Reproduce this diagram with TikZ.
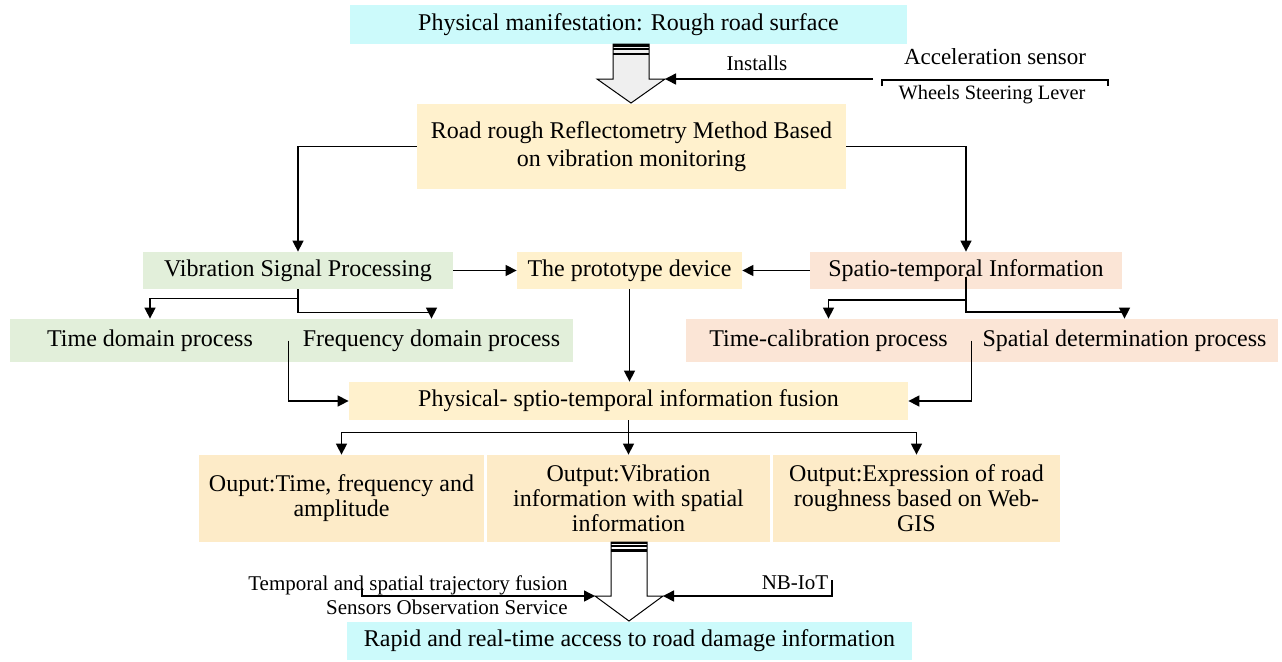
\documentclass[tikz,border=0pt]{standalone}
\usepackage{fontspec}
\setmainfont{Liberation Serif}
\usetikzlibrary{arrows.meta}

\definecolor{skyfill}{HTML}{CCFAFB}
\definecolor{creamfill}{HTML}{FFF1CD}
\definecolor{outfill}{HTML}{FDEBC8}
\definecolor{greenfill}{HTML}{E2EFDA}
\definecolor{salmonfill}{HTML}{FBE5D6}
\definecolor{arrowgray}{HTML}{EFEFEF}

\tikzset{
  box/.style={inner sep=0pt, align=center, font=\fontsize{12}{14}\selectfont},
  outbox/.style={box, fill=outfill, minimum height=43.5pt, font=\fontsize{12}{12.5}\selectfont},
  lbl/.style={inner sep=0pt, font=\fontsize{10.5}{12}\selectfont},
  arr/.style={-{Triangle[length=5.5pt,width=5.5pt]}, line width=0.75pt},
  wire/.style={line width=0.75pt},
  bigarrow/.style={line width=0.5pt}
}

\begin{document}
\begin{tikzpicture}[x=0.5pt, y=-0.5pt]
    \useasboundingbox (0,0) rectangle (1282,661);

    \node[box, fill=skyfill, minimum width=278.5pt, minimum height=19.5pt] (surface) at (628.5,24.5) {Physical manifestation: Rough road surface};
    \node[box, fill=creamfill, minimum width=214.5pt, minimum height=42.5pt] (method) at (631.5,146.5) {Road rough Reflectometry Method Based\\on vibration monitoring};

    \node[box, fill=greenfill, minimum width=155pt, minimum height=18.5pt] (vibration) at (298,270.5) {Vibration Signal Processing};
    \node[box, fill=creamfill, minimum width=112.5pt, minimum height=18.5pt] (prototype) at (629.5,270.5) {The prototype device};
    \node[box, fill=salmonfill, minimum width=156pt, minimum height=18.5pt] (spatiotemp) at (966,270.5) {Spatio-temporal Information};

    \node[box, fill=greenfill, minimum width=140pt, minimum height=21.5pt] (timedomain) at (150,340.5) {Time domain process};
    \node[box, fill=greenfill, minimum width=141.5pt, minimum height=21.5pt] (freqdomain) at (431.5,340.5) {Frequency domain process};
    \node[box, fill=salmonfill, minimum width=142.5pt, minimum height=21.5pt] (timecal) at (828.5,340.5) {Time-calibration process};
    \node[box, fill=salmonfill, minimum width=153.5pt, minimum height=21.5pt] (spatialdet) at (1124.5,340.5) {Spatial determination process};

    \node[box, fill=creamfill, minimum width=279.5pt, minimum height=19pt] (fusion) at (628.5,401) {Physical- sptio-temporal information fusion};

    \node[outbox, minimum width=142.5pt] (outtime) at (341.5,498.5) {Ouput:Time, frequency and\\amplitude};
    \node[outbox, minimum width=141.5pt] (outvib) at (628.5,498.5) {Output:Vibration\\information with spatial\\information};
    \node[outbox, minimum width=143.5pt] (outgis) at (916.5,498.5) {Output:Expression of road\\roughness based on Web-\\GIS};

    \node[box, fill=skyfill, minimum width=282.5pt, minimum height=19pt] (access) at (629.5,641) {Rapid and real-time access to road damage information};

    \node[lbl] (installs) at (757,63) {Installs};
    \node[lbl, font=\fontsize{11.5}{13}\selectfont] (accel) at (995,57) {Acceleration sensor};
    \node[lbl, font=\fontsize{10.2}{12}\selectfont] (wheels) at (992,95) {Wheels Steering Lever};
    \node[lbl, anchor=east, align=right] (trajectory) at (568,595) {Temporal and spatial trajectory fusion\\Sensors Observation Service};
    \node[lbl] (nbiot) at (795,583) {NB-IoT};

    \filldraw[bigarrow, fill=arrowgray] (613,44) -- (613,79) -- (597,79) -- (631,103) -- (665,79) -- (649,79) -- (649,44) -- cycle;
    \draw[line width=1.3pt] (613,45.3) -- (649,45.3);
    \draw[line width=0.85pt] (613,49.2) -- (649,49.2);
    \draw[line width=1.3pt] (613,54) -- (649,54);
    \filldraw[bigarrow, fill=white] (611,542) -- (611,596) -- (595,596) -- (629,621) -- (663,596) -- (647,596) -- (647,542) -- cycle;
    \draw[line width=1pt] (611,543) -- (647,543);
    \draw[line width=0.8pt] (611,546) -- (647,546);
    \draw[line width=1.2pt] (611,550.5) -- (647,550.5);

    \coordinate (topcorner) at (665,79);
    \coordinate (sensorend) at (873,79);
    \coordinate (leftcorner) at (595,596);
    \coordinate (rightcorner) at (663,596);
    \coordinate (trajstart) at (362,588);
    \coordinate (nbstart) at (832,580);

    \draw[arr] (sensorend) -- (topcorner);
    \draw[wire] (882,86) -- (882,80) -- (1108,80) -- (1108,86);
    \draw[arr] (trajstart) |- (leftcorner);
    \draw[arr] (nbstart) |- (rightcorner);

    \draw[arr] (method.west) -| (vibration.north);
    \draw[arr] (method.east) -| (spatiotemp.north);
    \draw[arr] (vibration.east) -- (prototype.west);
    \draw[arr] (spatiotemp.west) -- (prototype.east);

    \draw[arr] (vibration.south) -- ++(0,9) -| (timedomain.north);
    \draw[arr] (vibration.south) -- ++(0,23) -| (freqdomain.north);
    \draw[arr] ([yshift=-3pt]spatiotemp.center) -- (966,300) -| (timecal.north);
    \draw[arr] ([yshift=-3pt]spatiotemp.center) -- (966,312) -| (spatialdet.north);

    \draw[arr] ([xshift=-1pt]timedomain.east) |- (fusion.west);
    \draw[arr] (timecal.east) |- (fusion.east);
    \draw[arr] (prototype.south) -- (prototype.south |- fusion.north);

    \draw[arr] (fusion.south) -- ++(0,12) -| (outtime.north);
    \draw[arr] (fusion.south) -- (outvib.north);
    \draw[arr] (fusion.south) -- ++(0,12) -| (outgis.north);
\end{tikzpicture}
\end{document}
